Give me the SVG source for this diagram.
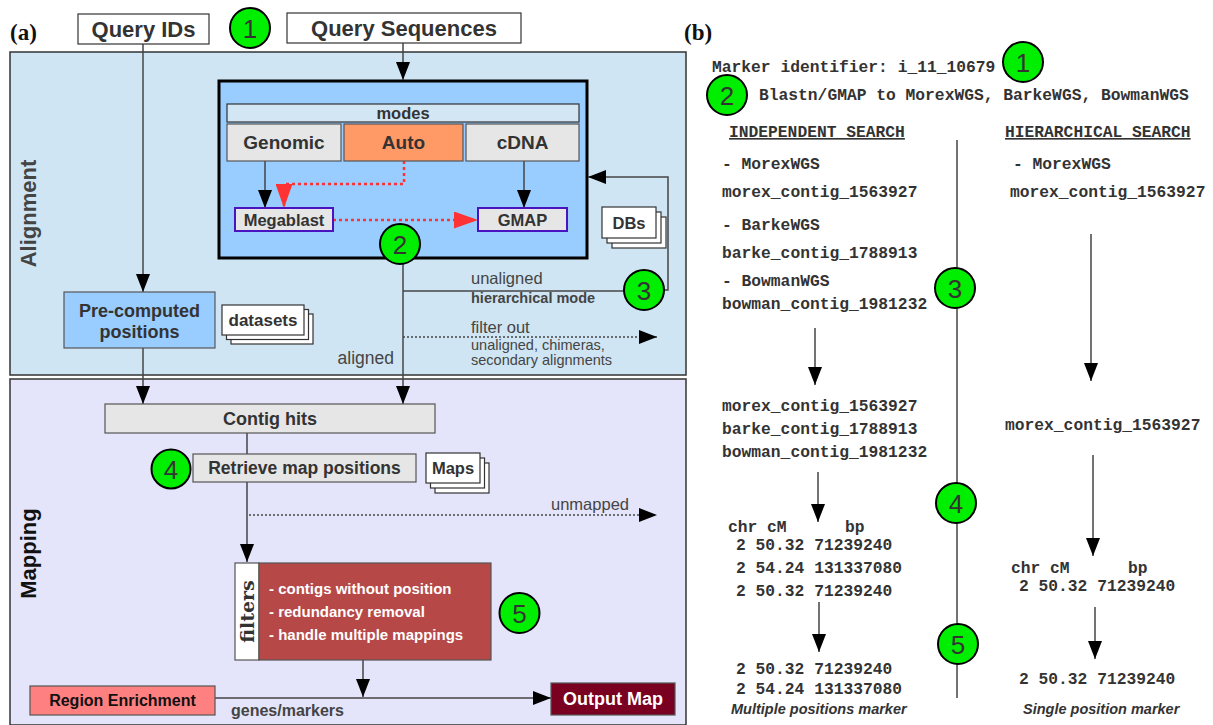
<svg xmlns="http://www.w3.org/2000/svg" width="1213" height="725" viewBox="0 0 1213 725">
  <style>
    .sans { font-family: "Liberation Sans", Arial, sans-serif; }
    .b { font-weight: bold; }
    .lbl { font-family: "Liberation Sans", Arial, sans-serif; font-weight: bold; fill: #333; text-anchor: middle; }
    .num { font-family: "Liberation Sans", Arial, sans-serif; font-size: 26px; fill: #333; text-anchor: middle; }
    .badge { fill: #00ee00; stroke: #000; stroke-width: 2; }
    .mono { font-family: "Liberation Mono", "Courier New", monospace; font-weight: bold; font-size: 16.3px; fill: #333; }
    .gray { fill: #e6e6e6; stroke: #555; stroke-width: 1.2; }
    .ln { fill: none; stroke: #444; stroke-width: 1.5; }
    .dot { fill: none; stroke: #444; stroke-width: 1.5; stroke-dasharray: 2 2; }
    .red { fill: none; stroke: #ff3333; stroke-width: 2.5; stroke-dasharray: 3 3; }
    .note { font-family: "Liberation Sans", Arial, sans-serif; fill: #444; }
    .stk { fill: #fff; stroke: #333; stroke-width: 1.2; }
  </style>
  <defs>
    <marker id="ah" markerUnits="userSpaceOnUse" markerWidth="19" markerHeight="14" refX="18" refY="7" orient="auto">
      <path d="M0,0 L18,7 L0,14 z" fill="#000"/>
    </marker>
    <marker id="ahr" markerUnits="userSpaceOnUse" markerWidth="25" markerHeight="17" refX="24" refY="8.5" orient="auto">
      <path d="M0,0 L24,8.5 L0,17 z" fill="#ff3333"/>
    </marker>
  </defs>

  <rect width="1213" height="725" fill="#fff"/>

  <!-- panel labels -->
  <text x="10" y="40" font-family="Liberation Serif, serif" font-weight="bold" font-size="23" fill="#111">(a)</text>
  <text x="684" y="40" font-family="Liberation Serif, serif" font-weight="bold" font-size="23" fill="#111">(b)</text>

  <!-- stage panels -->
  <g id="alignment-panel">
    <rect x="10" y="52" width="676" height="323" fill="#cfe5f3" stroke="#333" stroke-width="1.5"/>
    <text class="sans b" font-size="22" fill="#444" text-anchor="middle" transform="translate(36,213.5) rotate(-90)">Alignment</text>
  </g>
  <g id="mapping-panel">
    <rect x="10" y="379" width="676" height="346" fill="#e4e4fa" stroke="#333" stroke-width="1.5"/>
    <text class="sans b" font-size="22" fill="#111" text-anchor="middle" transform="translate(36,553.5) rotate(-90)">Mapping</text>
  </g>

  <!-- aligner container (drawn under the connectors inside it) -->
  <g id="aligner">
    <rect x="219" y="81" width="368" height="177" fill="#99ccff" stroke="#000" stroke-width="3"/>
  </g>

  <!-- connectors -->
  <g id="connectors">
    <path class="ln" d="M143,44 V292" marker-end="url(#ah)"/>
    <path class="ln" d="M403,43 V80" marker-end="url(#ah)"/>
    <path class="ln" d="M265,161 V208" marker-end="url(#ah)"/>
    <path class="ln" d="M524,161 V208" marker-end="url(#ah)"/>
    <path class="red" d="M404,161 V184 H284 V208" marker-end="url(#ahr)"/>
    <path class="red" d="M333,220 H478" marker-end="url(#ahr)"/>
    <path class="ln" d="M403,264 V404" marker-end="url(#ah)"/>
    <path class="ln" d="M403,291 H626"/>
    <path class="ln" d="M663,290 H668 V177 H588" marker-end="url(#ah)"/>
    <path class="dot" d="M403,337 H657" marker-end="url(#ah)"/>
    <path class="ln" d="M143,348 V404" marker-end="url(#ah)"/>
    <path class="ln" d="M247,433 V454"/>
    <path class="ln" d="M247,482 V562" marker-end="url(#ah)"/>
    <path class="dot" d="M249,515 H657" marker-end="url(#ah)"/>
    <path class="ln" d="M363,660 V697" marker-end="url(#ah)"/>
    <path class="ln" d="M215,698 H551" marker-end="url(#ah)"/>

    <!-- panel (b) arrows and divider -->
    <path class="ln" d="M957,140 V698" stroke="#222"/>
    <path class="ln" d="M815,328 V385" marker-end="url(#ah)"/>
    <path class="ln" d="M1091,234 V381" marker-end="url(#ah)"/>
    <path class="ln" d="M818,472 V522" marker-end="url(#ah)"/>
    <path class="ln" d="M1093,455 V556" marker-end="url(#ah)"/>
    <path class="ln" d="M819,602 V652" marker-end="url(#ah)"/>
    <path class="ln" d="M1095,607 V659" marker-end="url(#ah)"/>
  </g>

  <!-- edge labels -->
  <g id="edge-labels">
    <text class="note" x="471" y="284" font-size="16.5">unaligned</text>
    <text class="note b" x="471" y="303" font-size="14.5" fill="#333">hierarchical mode</text>
    <text class="note" x="471" y="333" font-size="16.5">filter out</text>
    <text class="note" x="471" y="350" font-size="14.5">unaligned, chimeras,</text>
    <text class="note" x="471" y="365" font-size="14.5">secondary alignments</text>
    <text class="note" x="394" y="364" font-size="17.5" text-anchor="end">aligned</text>
    <text class="note" x="629" y="510" font-size="16.5" text-anchor="end">unmapped</text>
    <text class="note b" x="231" y="716" font-size="16" fill="#555">genes/markers</text>
  </g>

  <!-- inputs -->
  <g id="query-ids">
    <rect x="78" y="14" width="131" height="30" fill="#fff" stroke="#333" stroke-width="1.2"/>
    <text class="lbl" x="143.5" y="37" font-size="22">Query IDs</text>
  </g>
  <g id="query-sequences">
    <rect x="287" y="13" width="234" height="30" fill="#fff" stroke="#333" stroke-width="1.2"/>
    <text class="lbl" x="404" y="36" font-size="22">Query Sequences</text>
  </g>

  <!-- aligner modes and tools -->
  <g id="modes">
    <rect x="227" y="104" width="352" height="18" fill="#d2e6f4" stroke="#333" stroke-width="1.2"/>
    <text class="lbl" x="403" y="119" font-size="16.5">modes</text>
  </g>
  <g id="mode-genomic">
    <rect class="gray" x="227" y="124" width="114" height="37"/>
    <text class="lbl" x="284" y="149" font-size="19">Genomic</text>
  </g>
  <g id="mode-auto">
    <rect x="344" y="124" width="119" height="37" fill="#ff9966" stroke="#555" stroke-width="1.2"/>
    <text class="lbl" x="403.5" y="149" font-size="19">Auto</text>
  </g>
  <g id="mode-cdna">
    <rect class="gray" x="466" y="124" width="113" height="37"/>
    <text class="lbl" x="522.5" y="149" font-size="19">cDNA</text>
  </g>
  <g id="megablast">
    <rect x="235" y="208" width="98" height="23" fill="#e6e6e6" stroke="#4b12bf" stroke-width="2"/>
    <text class="lbl" x="284" y="226" font-size="16.5">Megablast</text>
  </g>
  <g id="gmap">
    <rect x="478" y="208" width="89" height="23" fill="#e6e6e6" stroke="#4b12bf" stroke-width="2"/>
    <text class="lbl" x="522.5" y="226" font-size="16.5">GMAP</text>
  </g>
  <g id="dbs">
    <rect class="stk" x="612" y="217" width="54" height="31"/>
    <rect class="stk" x="607" y="212" width="54" height="31"/>
    <rect class="stk" x="602" y="207" width="54" height="31"/>
    <text class="lbl" x="629" y="229" font-size="16.5">DBs</text>
  </g>

  <g id="precomputed">
    <rect x="64" y="292" width="151" height="56" fill="#99ccff" stroke="#555" stroke-width="1.2"/>
    <text class="lbl" x="139.5" y="317" font-size="18">Pre-computed</text>
    <text class="lbl" x="139.5" y="338" font-size="18">positions</text>
  </g>
  <g id="datasets">
    <rect class="stk" x="231" y="314" width="82" height="30"/>
    <rect class="stk" x="226.5" y="309.5" width="82" height="30"/>
    <rect class="stk" x="222" y="305" width="82" height="30"/>
    <text class="lbl" x="263" y="326" font-size="17">datasets</text>
  </g>

  <!-- mapping block -->
  <g id="contig-hits">
    <rect class="gray" x="105" y="404" width="330" height="29"/>
    <text class="lbl" x="270" y="425" font-size="18">Contig hits</text>
  </g>
  <g id="retrieve">
    <rect class="gray" x="193" y="454" width="223" height="28"/>
    <text class="lbl" x="304.5" y="474" font-size="17.5">Retrieve map positions</text>
  </g>
  <g id="maps">
    <rect class="stk" x="435" y="463" width="54" height="30"/>
    <rect class="stk" x="430.5" y="458" width="54" height="30"/>
    <rect class="stk" x="426" y="453" width="54" height="30"/>
    <text class="lbl" x="453" y="474" font-size="16.5">Maps</text>
  </g>
  <g id="filters">
    <rect x="235" y="563" width="24" height="97" fill="#fff" stroke="#555" stroke-width="1.2"/>
    <rect x="259" y="563" width="232" height="97" fill="#b64848" stroke="#555" stroke-width="1.2"/>
    <text font-family="DejaVu Serif, Liberation Serif, serif" font-weight="bold" font-size="19" fill="#333" text-anchor="middle" transform="translate(254,611.5) rotate(-90)">filters</text>
    <text class="sans b" x="269" y="594" font-size="15" fill="#fff">- contigs without position</text>
    <text class="sans b" x="269" y="617" font-size="15" fill="#fff">- redundancy removal</text>
    <text class="sans b" x="269" y="640" font-size="15" fill="#fff">- handle multiple mappings</text>
  </g>
  <g id="region-enrichment">
    <rect x="30" y="686" width="185" height="29" fill="#ff8080" stroke="#555" stroke-width="1.2"/>
    <text class="sans b" x="122.5" y="706" font-size="16" fill="#111" text-anchor="middle">Region Enrichment</text>
  </g>
  <g id="output-map">
    <rect x="551" y="683" width="124" height="32" fill="#7a0022" stroke="#555" stroke-width="1.2"/>
    <text class="sans b" x="613" y="705" font-size="18" fill="#fff" text-anchor="middle">Output Map</text>
  </g>

  <!-- step badges, panel (a) -->
  <g id="step1-a"><circle class="badge" cx="250" cy="28" r="20"/><text class="num" x="250" y="37.5">1</text></g>
  <g id="step2-a"><circle class="badge" cx="400" cy="244" r="20"/><text class="num" x="400" y="253.5">2</text></g>
  <g id="step3-a"><circle class="badge" cx="644" cy="290" r="20"/><text class="num" x="644" y="299.5">3</text></g>
  <g id="step4-a"><circle class="badge" cx="171" cy="469" r="19.5"/><text class="num" x="171" y="478.5">4</text></g>
  <g id="step5-a"><circle class="badge" cx="519.5" cy="613" r="20"/><text class="num" x="519.5" y="622.5">5</text></g>

  <!-- panel (b): worked example -->
  <g id="example">
    <text class="mono" x="712" y="72">Marker identifier: i_11_10679</text>
    <text class="mono" x="759" y="100">Blastn/GMAP to MorexWGS, BarkeWGS, BowmanWGS</text>
    <text class="mono" x="729" y="137" fill="#555" text-decoration="underline">INDEPENDENT SEARCH</text>
    <text class="mono" x="1005" y="137" fill="#555" text-decoration="underline">HIERARCHICAL SEARCH</text>

    <text class="mono" x="722" y="169">- MorexWGS</text>
    <text class="mono" x="722" y="197">morex_contig_1563927</text>
    <text class="mono" x="722" y="230">- BarkeWGS</text>
    <text class="mono" x="722" y="258">barke_contig_1788913</text>
    <text class="mono" x="722" y="286">- BowmanWGS</text>
    <text class="mono" x="722" y="309">bowman_contig_1981232</text>

    <text class="mono" x="1013" y="169">- MorexWGS</text>
    <text class="mono" x="1010" y="197">morex_contig_1563927</text>

    <text class="mono" x="722" y="411">morex_contig_1563927</text>
    <text class="mono" x="722" y="434">barke_contig_1788913</text>
    <text class="mono" x="722" y="457">bowman_contig_1981232</text>
    <text class="mono" x="1005" y="430">morex_contig_1563927</text>

    <text class="mono" x="728" y="532">chr cM</text>
    <text class="mono" x="845" y="532">bp</text>
    <text class="mono" x="736" y="550">2 50.32 71239240</text>
    <text class="mono" x="736" y="573">2 54.24 131337080</text>
    <text class="mono" x="736" y="596">2 50.32 71239240</text>

    <text class="mono" x="1011" y="573">chr cM</text>
    <text class="mono" x="1128" y="573">bp</text>
    <text class="mono" x="1019" y="591">2 50.32 71239240</text>

    <text class="mono" x="736" y="674">2 50.32 71239240</text>
    <text class="mono" x="736" y="694">2 54.24 131337080</text>
    <text class="mono" x="1019" y="684">2 50.32 71239240</text>

    <text class="sans b" x="731" y="714" font-size="14.5" font-style="italic" fill="#333">Multiple positions marker</text>
    <text class="sans b" x="1023" y="714" font-size="14.5" font-style="italic" fill="#333">Single position marker</text>
  </g>

  <!-- step badges, panel (b) -->
  <g id="step1-b"><circle class="badge" cx="1023" cy="62" r="20"/><text class="num" x="1023" y="71.5">1</text></g>
  <g id="step2-b"><circle class="badge" cx="727" cy="95" r="20"/><text class="num" x="727" y="104.5">2</text></g>
  <g id="step3-b"><circle class="badge" cx="955" cy="288" r="20"/><text class="num" x="955" y="297.5">3</text></g>
  <g id="step4-b"><circle class="badge" cx="956" cy="503" r="20"/><text class="num" x="956" y="512.5">4</text></g>
  <g id="step5-b"><circle class="badge" cx="958" cy="644" r="20"/><text class="num" x="958" y="653.5">5</text></g>
</svg>
